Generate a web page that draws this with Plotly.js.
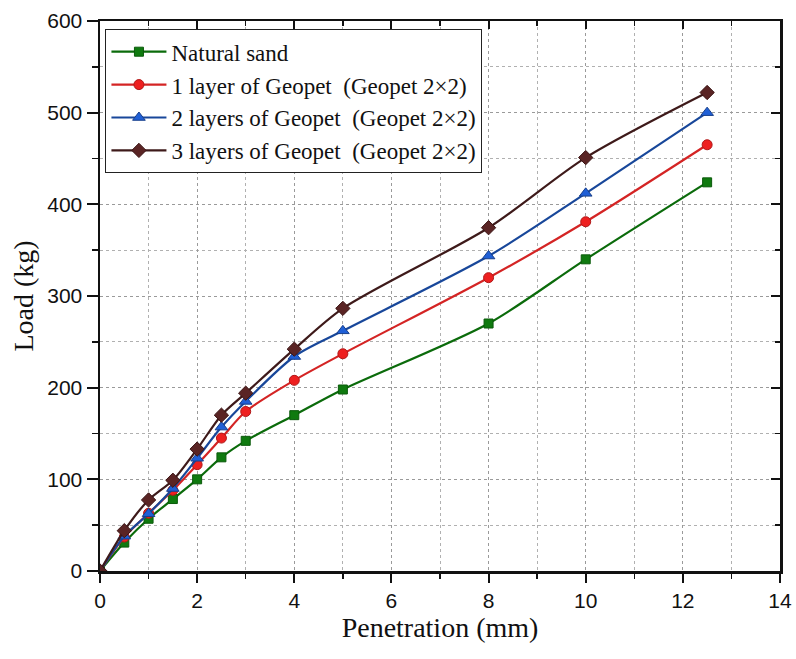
<!DOCTYPE html>
<html>
<head>
<meta charset="utf-8">
<script src="https://cdn.plot.ly/plotly-3.0.1.min.js"></script>
<style>html,body{margin:0;padding:0;background:#fff;}#chart{width:796px;height:659px;}</style>
</head>
<body>
<div id="chart"></div>
<script>
const penetration = [0, 0.5, 1, 1.5, 2, 2.5, 3, 4, 5, 8, 10, 12.5];
const naturalSand = [0, 31, 57, 78.5, 100, 124, 142, 170, 198, 270, 340, 424];
const layer1 = [0, 37, 63, 88, 116, 145, 174, 208, 237, 320, 381, 465];
const layer2 = [0, 38, 62.5, 90, 123, 157, 185, 234, 262, 343.6, 412, 500];
const layer3 = [0, 44, 77.5, 99, 133, 170, 194, 242, 286.5, 374.5, 451, 522];
const seriesNames = [
  "Natural sand",
  "1 layer of Geopet  (Geopet 2×2)",
  "2 layers of Geopet  (Geopet 2×2)",
  "3 layers of Geopet  (Geopet 2×2)"
];

const styles = [
  {line: "#0b6b0b", fill: "#0f7a0f", edge: "#0a5a0a", symbol: "square", size: 9},
  {line: "#d42424", fill: "#ee2020", edge: "#b01818", symbol: "circle", size: 10},
  {line: "#18479a", fill: "#1f5fd6", edge: "#163e8a", symbol: "triangle-up", size: 11},
  {line: "#3e1a1a", fill: "#5a2424", edge: "#3a1414", symbol: "diamond", size: 11}
];
const ys = [naturalSand, layer1, layer2, layer3];

const traces = ys.map((y, i) => ({
  x: penetration,
  y: y,
  name: seriesNames[i],
  type: "scatter",
  mode: "lines+markers",
  line: {color: styles[i].line, width: 2.2, shape: "spline", smoothing: 0.8},
  marker: {symbol: styles[i].symbol, size: styles[i].size, color: styles[i].fill,
           line: {color: styles[i].edge, width: 1}},
  xaxis: "x", yaxis: "y"
}));

// dummy trace to activate mirror axes
traces.push({x: [0], y: [0], xaxis: "x2", yaxis: "y2", mode: "markers",
  marker: {opacity: 0}, showlegend: false, hoverinfo: "skip"});

const tickFont = {family: "Liberation Sans, Arial, sans-serif", size: 21, color: "#111"};
const titleFont = {family: "Liberation Serif, Times New Roman, serif", size: 28, color: "#111"};

const layout = {
  width: 796, height: 659,
  margin: {l: 100, r: 16, t: 21, b: 88},
  paper_bgcolor: "#fff", plot_bgcolor: "#fff",
  showlegend: true,
  legend: {
    x: 0.008, y: 0.985, xanchor: "left", yanchor: "top",
    bgcolor: "#fff", bordercolor: "#222", borderwidth: 1,
    font: {family: "Liberation Serif, Times New Roman, serif", size: 23, color: "#111"},
    itemwidth: 55, tracegroupgap: 0
  },
  xaxis: {
    range: [0, 14], dtick: 2, tick0: 0,
    showline: true, linecolor: "#111", linewidth: 2.5,
    ticks: "outside", ticklen: 9, tickwidth: 2, tickcolor: "#111",
    tickfont: tickFont,
    showgrid: true, gridcolor: "#9a9a9a", griddash: "dot", gridwidth: 1,
    zeroline: false,
    minor: {dtick: 1, ticks: "outside", ticklen: 5, tickwidth: 1.5, tickcolor: "#111",
            showgrid: true, gridcolor: "#b0b0b0", griddash: "dot", gridwidth: 1},
    title: {text: "Penetration (mm)", font: titleFont, standoff: 6}
  },
  yaxis: {
    range: [0, 600], dtick: 100, tick0: 0,
    showline: true, linecolor: "#111", linewidth: 2.5,
    ticks: "outside", ticklen: 11, tickwidth: 2, tickcolor: "#111",
    tickfont: tickFont,
    showgrid: true, gridcolor: "#9a9a9a", griddash: "dot", gridwidth: 1,
    zeroline: false,
    minor: {dtick: 50, ticks: "outside", ticklen: 6, tickwidth: 1.5, tickcolor: "#111",
            showgrid: true, gridcolor: "#b0b0b0", griddash: "dot", gridwidth: 1},
    title: {text: "Load (kg)", font: titleFont, standoff: 6}
  },
  xaxis2: {
    overlaying: "x", side: "top", anchor: "y2", range: [0, 14], dtick: 2,
    showline: true, linecolor: "#111", linewidth: 2.5,
    ticks: "inside", ticklen: 8, tickwidth: 2, tickcolor: "#111",
    showticklabels: false, showgrid: false, zeroline: false,
    minor: {dtick: 1, ticks: "inside", ticklen: 5, tickwidth: 1.5, tickcolor: "#111", showgrid: false}
  },
  yaxis2: {
    overlaying: "y", side: "right", anchor: "x2", range: [0, 600], dtick: 100,
    showline: true, linecolor: "#111", linewidth: 2.5,
    ticks: "inside", ticklen: 9, tickwidth: 2, tickcolor: "#111",
    showticklabels: false, showgrid: false, zeroline: false,
    minor: {dtick: 50, ticks: "inside", ticklen: 5, tickwidth: 1.5, tickcolor: "#111", showgrid: false}
  }
};

Plotly.newPlot("chart", traces, layout, {displayModeBar: false, staticPlot: true});
</script>
</body>
</html>
